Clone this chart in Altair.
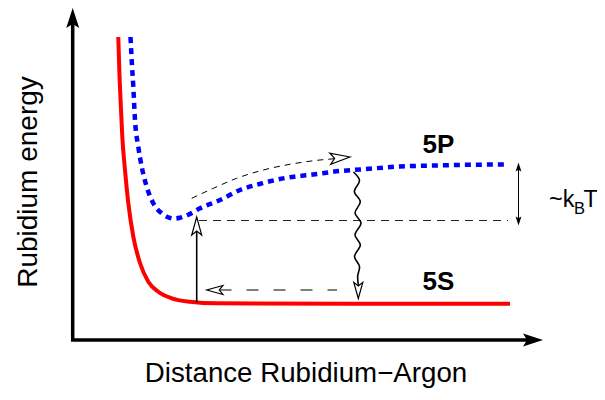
import altair as alt
import pandas as pd

# ---- schematic data (units: distance / energy in drawing coordinates) ----
# 5S ground-state potential (red)
s_dist = [118.3, 119.3, 120.7, 122.3, 125.0, 128.3, 133.3, 140.0, 148.3, 158.3, 171.7, 190.0, 216.7, 350.0, 510.0]
s_energy = [37.0, 70.0, 103.0, 136.7, 170.0, 203.0, 236.7, 263.0, 281.7, 291.7, 298.3, 301.7, 303.3, 303.8, 303.8]

# 5P excited-state potential (blue, dotted)
p_dist = [130.5, 131.7, 133.3, 135.0, 138.3, 141.7, 146.7, 153.3, 161.7, 168.0, 174.0, 180.0, 188.3, 200.0,
          220.0, 240.0, 263.3, 285.0, 313.0, 340.0, 360.0, 400.0, 433.0, 467.0, 507.0]
p_energy = [37.0, 60.0, 86.7, 120.0, 146.7, 166.7, 186.7, 203.3, 213.3, 217.2, 218.6, 217.8, 214.8, 208.3,
            200.0, 190.0, 183.0, 178.0, 174.5, 171.0, 169.5, 166.5, 165.5, 164.8, 164.5]

# axes (drawn as one polyline)
axis_x = [72.7, 72.7, 535.0]
axis_y = [20.0, 340.0, 340.0]

# thermal reference level (thin dashed)
level_x = [199.0, 508.0]
level_y = [220.5, 220.5]

# return path along 5S (grey dashed, arrow to the left)
ret_x = [219.5, 337.0]
ret_y = [290.0, 290.0]

# thermalisation path along 5P (curved dashed)
therm_x = [191.7, 213.3, 236.7, 263.3, 290.0, 320.0, 335.0]
therm_y = [198.3, 188.3, 178.3, 170.0, 164.3, 160.0, 158.7]

# spontaneous emission (wavy)
wave_x = [353.5, 359.5, 354.3, 360.3, 355.0, 361.0, 355.0, 360.3, 354.5, 359.5, 357.7, 358.3]
wave_y = [172.0, 180.5, 191.5, 201.7, 213.0, 223.0, 235.0, 245.0, 256.5, 266.5, 276.0, 285.0]

# excitation arrow (vertical)
exc_x = [196.7]
exc_y = [302.5]
exc_y2 = [231.0]

# ~kBT double arrow
kt_x = [518.5]
kt_y = [165.0]
kt_y2 = [223.0]

# arrow heads (tip position, direction in degrees clockwise from up, size)
UP_OPEN = "M0,0L-0.5,1.8L0,1.4L0.5,1.8Z"
UP_FILL = "M0,0L-0.65,2L0,1.6L0.65,2Z"
open_x = [196.7, 206.7, 350.0, 358.3]
open_y = [217.0, 290.0, 157.0, 298.5]
open_angle = [0, 270, 85, 180]
open_size = [400, 324, 484, 324]

fill_x = [72.7, 543.0, 518.5, 518.5]
fill_y = [8.0, 340.0, 162.5, 225.5]
fill_angle = [0, 90, 0, 180]
fill_size = [400, 400, 81, 81]

# labels
xlabel = "Distance Rubidium\u2212Argon"
ylabel = "Rubidium energy"
state_names = ["5P", "5S"]
kt_parts = ["~k", "T"]
kt_subscript = ["B"]

X_SCALE = alt.Scale(domain=[8, 597], nice=False, zero=False)
Y_SCALE = alt.Scale(domain=[8, 392], nice=False, zero=False, reverse=True)


def X(f="x"):
    return alt.X(f"{f}:Q", scale=X_SCALE, axis=None)


def Y(f="y"):
    return alt.Y(f"{f}:Q", scale=Y_SCALE, axis=None)


def df_xy(xs, ys):
    return pd.DataFrame({"x": xs, "y": ys, "o": list(range(len(xs)))})


axes = alt.Chart(df_xy(axis_x, axis_y)).mark_line(
    color="black", strokeWidth=3.5, strokeJoin="miter"
).encode(x=X(), y=Y(), order="o:Q")

red = alt.Chart(df_xy(s_dist, s_energy)).mark_line(
    color="#ff0000", strokeWidth=4, interpolate="monotone"
).encode(x=X(), y=Y(), order="o:Q")

blue = alt.Chart(df_xy(p_dist, p_energy)).mark_line(
    color="#0000ff", strokeWidth=4.5, strokeDash=[6, 5], interpolate="monotone"
).encode(x=X(), y=Y(), order="o:Q")

level = alt.Chart(df_xy(level_x, level_y)).mark_line(
    color="#222222", strokeWidth=1, strokeDash=[8, 6]
).encode(x=X(), y=Y(), order="o:Q")

ret = alt.Chart(df_xy(ret_x, ret_y)).mark_line(
    color="#555555", strokeWidth=1.5, strokeDash=[12, 15]
).encode(x=X(), y=Y(), order="o:Q")

therm = alt.Chart(df_xy(therm_x, therm_y)).mark_line(
    color="black", strokeWidth=1, strokeDash=[6, 5], interpolate="monotone"
).encode(x=X(), y=Y(), order="o:Q")

wave = alt.Chart(df_xy(wave_x, wave_y)).mark_line(
    color="black", strokeWidth=1.6, interpolate="catmull-rom"
).encode(x=X(), y=Y(), order="o:Q")

exc = alt.Chart(pd.DataFrame({"x": exc_x, "y": exc_y, "y2": exc_y2})).mark_rule(
    color="black", strokeWidth=1.6
).encode(x=X(), y=Y(), y2=alt.Y2("y2:Q"))

kt = alt.Chart(pd.DataFrame({"x": kt_x, "y": kt_y, "y2": kt_y2})).mark_rule(
    color="black", strokeWidth=1
).encode(x=X(), y=Y(), y2=alt.Y2("y2:Q"))

open_heads = alt.Chart(pd.DataFrame({
    "x": open_x, "y": open_y, "a": open_angle, "s": open_size,
    "shape": [UP_OPEN] * len(open_x)})).mark_point(
    filled=True, fill="white", stroke="black", strokeWidth=1.2, opacity=1
).encode(x=X(), y=Y(), angle=alt.Angle("a:Q", scale=None),
         size=alt.Size("s:Q", scale=None), shape=alt.Shape("shape:N", scale=None))

fill_heads = alt.Chart(pd.DataFrame({
    "x": fill_x, "y": fill_y, "a": fill_angle, "s": fill_size,
    "shape": [UP_FILL] * len(fill_x)})).mark_point(
    filled=True, color="black", strokeWidth=0, opacity=1
).encode(x=X(), y=Y(), angle=alt.Angle("a:Q", scale=None),
         size=alt.Size("s:Q", scale=None), shape=alt.Shape("shape:N", scale=None))

FONT = "Liberation Sans"

xlab = alt.Chart(pd.DataFrame({"x": [306.0], "y": [382.0], "t": [xlabel]})).mark_text(
    font=FONT, fontSize=27.7, align="center", baseline="alphabetic", color="black"
).encode(x=X(), y=Y(), text="t:N")

ylab = alt.Chart(pd.DataFrame({"x": [36.5], "y": [182.0], "t": [ylabel]})).mark_text(
    font=FONT, fontSize=28, align="center", baseline="alphabetic", angle=270, color="black"
).encode(x=X(), y=Y(), text="t:N")

state_labels = alt.Chart(pd.DataFrame({
    "x": [422.5, 422.5], "y": [152.5, 290.0], "t": state_names})).mark_text(
    font=FONT, fontSize=26, fontWeight="bold", align="left", baseline="alphabetic", color="black"
).encode(x=X(), y=Y(), text="t:N")

kt_main = alt.Chart(pd.DataFrame({
    "x": [549.0, 583.5], "y": [207.0, 207.0], "t": kt_parts})).mark_text(
    font=FONT, fontSize=23.5, align="left", baseline="alphabetic", color="black"
).encode(x=X(), y=Y(), text="t:N")

kt_sub = alt.Chart(pd.DataFrame({"x": [574.0], "y": [213.5], "t": kt_subscript})).mark_text(
    font=FONT, fontSize=16.5, align="left", baseline="alphabetic", color="black"
).encode(x=X(), y=Y(), text="t:N")

chart = alt.layer(
    axes, red, blue, level, ret, therm, wave, exc, kt,
    open_heads, fill_heads, xlab, ylab, state_labels, kt_main, kt_sub
).properties(
    width=589, height=384, padding=0,
    autosize=alt.AutoSizeParams(type="none")
).configure_view(stroke=None)

chart.save("out.html", embed_options={"renderer": "svg", "actions": False})
